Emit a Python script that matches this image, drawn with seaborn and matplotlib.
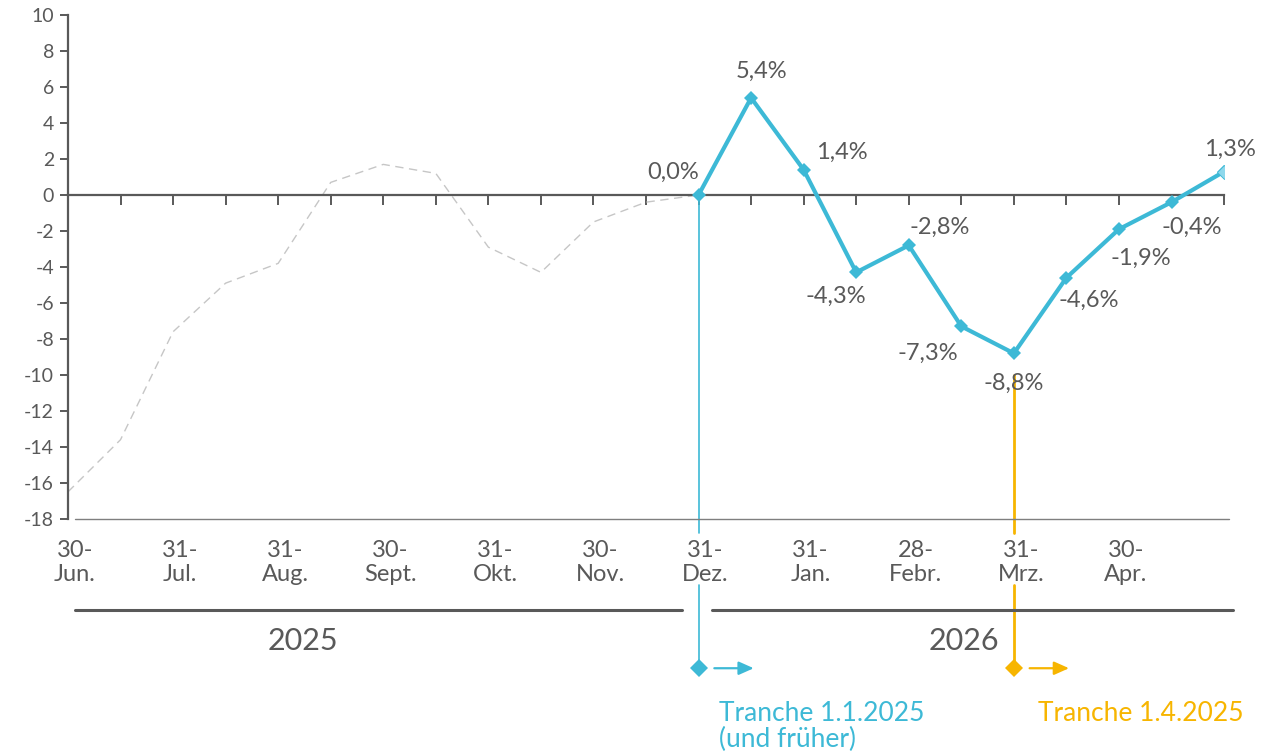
import numpy as np
import pandas as pd
import matplotlib.pyplot as plt
import seaborn as sns

# Werte (Prozent) je Halbmonat, Index 0 = 30. Juni
hist_idx = list(range(0, 13))
hist_vals = [-16.5, -13.6, -7.6, -4.9, -3.8, 0.7, 1.7, 1.2, -2.9, -4.3, -1.5, -0.4, 0.0]

tranche_idx = list(range(12, 23))
tranche_vals = [0.0, 5.4, 1.4, -4.3, -2.8, -7.3, -8.8, -4.6, -1.9, -0.4, 1.3]

tick_pos = [0, 2, 4, 6, 8, 10, 12, 14, 16, 18, 20]
tick_labels = ["30-\nJun.", "31-\nJul.", "31-\nAug.", "30-\nSept.", "31-\nOkt.", "30-\nNov.",
               "31-\nDez.", "31-\nJan.", "28-\nFebr.", "31-\nMrz.", "30-\nApr."]

# Label-Versatz in Pixeln (dx, dy)
label_offsets = [(-25, 23), (10, 26), (38, 17), (-20, -24), (31, 18), (-33, -27),
                 (0, -30), (22, -23), (22, -29), (20, -25), (6, 22)]

BLUE = "#3DB9D6"
BLUE_LIGHT = "#8ED8EC"
YELLOW = "#F7B500"
GREY = "#595959"
DASH = "#C6C6C6"

sns.set_style("white")
plt.rcParams["font.family"] = ["Lato", "DejaVu Sans"]
plt.rcParams["text.color"] = GREY
plt.rcParams["axes.unicode_minus"] = False

fig = plt.figure(figsize=(12.61, 7.52), dpi=100)
ax = fig.add_axes([0.0539, 0.310, 0.9168, 0.670])

df_hist = pd.DataFrame({"x": hist_idx, "y": hist_vals})
df_tr = pd.DataFrame({"x": tranche_idx, "y": tranche_vals})

sns.lineplot(data=df_hist, x="x", y="y", ax=ax, color=DASH, lw=1.0, linestyle=(0, (6, 4)))
sns.lineplot(data=df_tr, x="x", y="y", ax=ax, color=BLUE, lw=3.0, marker="D",
             markersize=7, markeredgewidth=0, zorder=5)
# letzter Punkt heller
ax.plot(tranche_idx[-1:], tranche_vals[-1:], marker="D", ms=7, color=BLUE_LIGHT,
        mec=BLUE, mew=0.6, ls="none", zorder=6)

for xi, yi, (dx, dy) in zip(tranche_idx, tranche_vals, label_offsets):
    ax.annotate(f"{yi:.1f}%".replace(".", ","), (xi, yi), xytext=(dx, dy),
                textcoords="offset pixels", ha="center", va="center",
                fontsize=17, color=GREY)

ax.set_xlim(0, 22)
ax.set_ylim(-18, 10)
ax.set_yticks(range(-18, 11, 2))
ax.set_xticks(range(0, 23))
ax.set_xticklabels([])
ax.set_xlabel("")
ax.set_ylabel("")

for s in ["top", "right"]:
    ax.spines[s].set_visible(False)
ax.spines["bottom"].set_position(("data", 0))
ax.spines["bottom"].set_color(GREY)
ax.spines["bottom"].set_linewidth(1.6)
ax.spines["left"].set_color(GREY)
ax.spines["left"].set_linewidth(1.6)
ax.tick_params(axis="x", bottom=True, direction="out", length=7, width=1.4, color=GREY)
ax.tick_params(axis="y", left=True, direction="out", length=6, width=1.4, color=GREY,
               labelsize=14, labelcolor=GREY, pad=4)

# untere Linie bei -18
ax.plot([0.13, 22.1], [-18, -18], color="#7F7F7F", lw=1.0, clip_on=False)

# Monatsbeschriftung
for p, lab in zip(tick_pos, tick_labels):
    ax.annotate(lab, (p, -18), xytext=(7, -21), textcoords="offset pixels",
                ha="center", va="top", fontsize=17, color=GREY, linespacing=1.2,
                annotation_clip=False)

# Jahresklammern
ax.plot([0.13, 11.68], [-23.05, -23.05], color=GREY, lw=2.2, clip_on=False)
ax.plot([12.25, 22.17], [-23.05, -23.05], color=GREY, lw=2.2, clip_on=False)
ax.text(4.48, -24.8, "2025", ha="center", va="center", fontsize=22, color=GREY, clip_on=False)
ax.text(17.05, -24.8, "2026", ha="center", va="center", fontsize=22, color=GREY, clip_on=False)

# Tranchen-Markierungen
ax.plot([12, 12], [0, -18.8], color=BLUE, lw=1.2, clip_on=False, zorder=1)
ax.plot([12, 12], [-21.7, -26.3], color=BLUE, lw=1.2, clip_on=False, zorder=1)
ax.plot([18, 18], [-10.0, -18.8], color=YELLOW, lw=2.0, clip_on=False, zorder=1)
ax.plot([18, 18], [-21.7, -26.3], color=YELLOW, lw=2.0, clip_on=False, zorder=1)
ax.plot([12], [-26.3], marker="D", ms=9, color=BLUE, mew=0, clip_on=False)
ax.plot([18], [-26.3], marker="D", ms=9, color=YELLOW, mew=0, clip_on=False)
ax.annotate("", xy=(13.05, -26.3), xytext=(12.3, -26.3), annotation_clip=False,
            arrowprops=dict(arrowstyle="-|>,head_length=0.9,head_width=0.4",
                            color=BLUE, lw=1.6, shrinkA=0, shrinkB=0))
ax.annotate("", xy=(19.05, -26.3), xytext=(18.3, -26.3), annotation_clip=False,
            arrowprops=dict(arrowstyle="-|>,head_length=0.9,head_width=0.4",
                            color=YELLOW, lw=1.6, shrinkA=0, shrinkB=0))
ax.text(12.38, -29.55, "Tranche 1.1.2025\n(und früher)", ha="left", va="center",
        fontsize=19, color=BLUE, linespacing=1.05, clip_on=False)
ax.text(18.46, -28.8, "Tranche 1.4.2025", ha="left", va="center",
        fontsize=19, color=YELLOW, clip_on=False)

fig.savefig("out.png", dpi=100)
